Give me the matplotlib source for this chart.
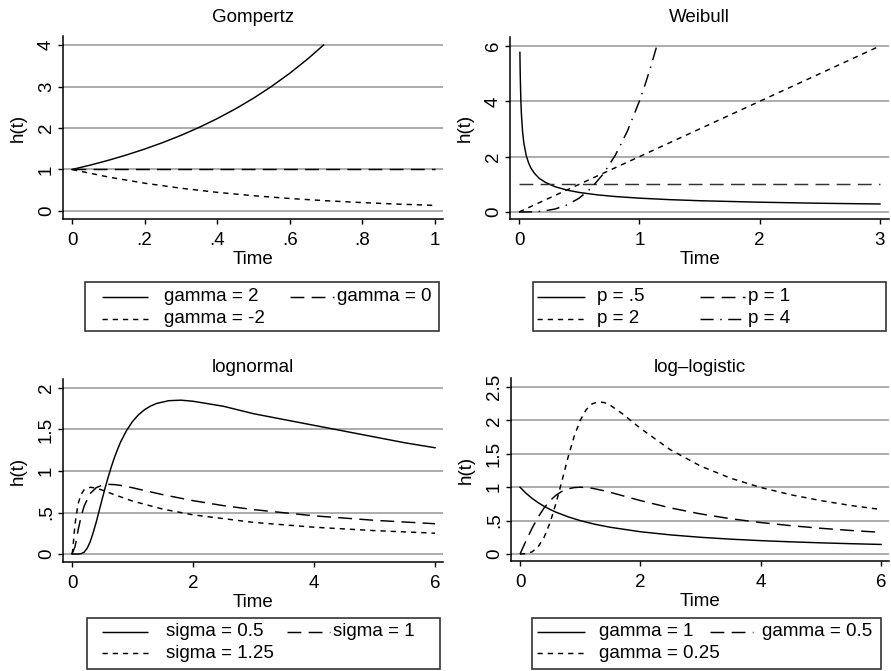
import matplotlib
matplotlib.use('Agg')
import matplotlib.pyplot as plt
from matplotlib.patches import Rectangle

plt.rcParams['font.family'] = ['Liberation Sans', 'DejaVu Sans']

# ---------------- data ----------------
# Gompertz
gomp_t_pos = [0, .05, .1, .15, .2, .25, .3, .35, .4, .45, .5, .55, .6, .65, .693]
gomp_h_pos = [1, 1.105, 1.221, 1.350, 1.492, 1.649, 1.822, 2.014, 2.226, 2.460, 2.718, 3.004, 3.320, 3.669, 4.0]
gomp_t_zero = [0, 1]
gomp_h_zero = [1, 1]
gomp_t_neg = [0, .1, .2, .3, .4, .5, .6, .7, .8, .9, 1.0]
gomp_h_neg = [1, .819, .670, .549, .449, .368, .301, .247, .202, .165, .135]
gomp_labels = ['gamma = 2', 'gamma = 0', 'gamma = -2']

# Weibull
weib_t_05 = [0.0075, 0.01, 0.015, 0.02, 0.03, 0.04, 0.06, 0.08, 0.1, 0.13, 0.17, 0.22, 0.3, 0.4, 0.5,
             0.65, 0.8, 1.0, 1.25, 1.5, 2.0, 2.5, 3.0]
weib_h_05 = [5.77, 5.0, 4.08, 3.54, 2.89, 2.5, 2.04, 1.77, 1.58, 1.39, 1.21, 1.07, 0.913, 0.79, 0.707,
             0.62, 0.559, 0.5, 0.447, 0.408, 0.354, 0.316, 0.289]
weib_t_1 = [0, 3]
weib_h_1 = [1, 1]
weib_t_2 = [0, 3]
weib_h_2 = [0, 6]
weib_t_4 = [0, 0.1, 0.2, 0.3, 0.4, 0.5, 0.6, 0.7, 0.8, 0.9, 1.0, 1.05, 1.1, 1.145]
weib_h_4 = [0, 0.004, 0.032, 0.108, 0.256, 0.5, 0.864, 1.372, 2.048, 2.916, 4.0, 4.63, 5.32, 6.0]
weib_labels = ['p = .5', 'p = 1', 'p = 2', 'p = 4']

# lognormal
logn_t_05 = [0, 0.1, 0.15, 0.2, 0.25, 0.3, 0.35, 0.4, 0.45, 0.5, 0.55, 0.6, 0.65, 0.7, 0.75, 0.8, 0.9,
             1.0, 1.1, 1.2, 1.3, 1.4, 1.6, 1.8, 2.0, 2.5, 3.0, 3.5, 4.0, 4.5, 5.0, 5.5, 6.0]
logn_h_05 = [0, 0.0, 0.004, 0.022, 0.069, 0.147, 0.257, 0.385, 0.524, 0.666, 0.804, 0.932, 1.051, 1.16,
             1.255, 1.344, 1.486, 1.596, 1.678, 1.739, 1.783, 1.814, 1.847, 1.853, 1.84, 1.78, 1.69,
             1.62, 1.55, 1.48, 1.41, 1.34, 1.28]
logn_t_1 = [0, 0.05, 0.1, 0.15, 0.2, 0.3, 0.4, 0.5, 0.6, 0.7, 0.8, 1.0, 1.5, 2.0, 2.5, 3.0, 4.0, 5.0, 6.0]
logn_h_1 = [0, 0.089, 0.286, 0.45, 0.577, 0.728, 0.799, 0.83, 0.839, 0.836, 0.827, 0.798, 0.715, 0.643,
            0.583, 0.535, 0.46, 0.406, 0.365]
logn_t_125 = [0, 0.01, 0.02, 0.05, 0.1, 0.15, 0.2, 0.3, 0.4, 0.5, 0.7, 1.0, 1.5, 2.0, 3.0, 4.0, 5.0, 6.0]
logn_h_125 = [0, 0.037, 0.119, 0.363, 0.606, 0.717, 0.774, 0.804, 0.794, 0.77, 0.715, 0.638, 0.541,
              0.472, 0.381, 0.323, 0.282, 0.251]
logn_labels = ['sigma = 0.5', 'sigma = 1', 'sigma = 1.25']

# log-logistic
llog_t_1 = [0, 0.1, 0.2, 0.3, 0.4, 0.5, 0.6, 0.8, 1.0, 1.25, 1.5, 2.0, 2.5, 3.0, 3.5, 4.0, 4.5, 5.0,
            5.5, 6.0]
llog_h_1 = [1, 0.909, 0.833, 0.769, 0.714, 0.667, 0.625, 0.556, 0.5, 0.444, 0.4, 0.333, 0.286, 0.25,
            0.222, 0.2, 0.182, 0.167, 0.154, 0.143]
llog_t_05 = [0, 0.1, 0.2, 0.3, 0.4, 0.5, 0.6, 0.7, 0.8, 0.9, 1.0, 1.2, 1.4, 1.6, 1.8, 2.0, 2.5, 3.0,
             3.5, 4.0, 4.5, 5.0, 5.5, 6.0]
llog_h_05 = [0, 0.198, 0.385, 0.55, 0.69, 0.8, 0.882, 0.94, 0.976, 0.994, 1.0, 0.984, 0.946, 0.899,
             0.849, 0.8, 0.69, 0.6, 0.528, 0.471, 0.424, 0.385, 0.352, 0.324]
llog_t_025 = [0, 0.1, 0.2, 0.3, 0.4, 0.5, 0.6, 0.7, 0.8, 0.9, 1.0, 1.1, 1.2, 1.3, 1.4, 1.5, 1.7, 2.0,
              2.5, 3.0, 3.5, 4.0, 4.5, 5.0, 5.5, 6.0]
llog_h_025 = [0, 0.004, 0.032, 0.107, 0.25, 0.471, 0.765, 1.106, 1.453, 1.761, 2.0, 2.161, 2.249, 2.279,
              2.267, 2.227, 2.101, 1.882, 1.56, 1.317, 1.135, 0.996, 0.887, 0.799, 0.726, 0.666]
llog_labels = ['gamma = 1', 'gamma = 0.5', 'gamma = 0.25']

# ---------------- styling ----------------
W, H = 891, 671
FS = 13.5
LW = 1.05
GRID = '#a6a6a6'
SOLID = '-'
LONG = (0, (9.5, 5.0))
SHORT = (0, (3.6, 3.4))
DDOT = (0, (9.0, 4.5, 1.0, 4.5))

fig = plt.figure(figsize=(W / 100, H / 100), dpi=100)


def px_axes(l, t, r, b, **kw):
    return fig.add_axes([l / W, 1 - b / H, (r - l) / W, (b - t) / H], **kw)


def style(ax, xticks, xlabels, yticks, ylabels, xlim, ylim):
    ax.set_xlim(*xlim)
    ax.set_ylim(*ylim)
    ax.set_xticks(xticks)
    ax.set_xticklabels(xlabels)
    ax.set_yticks(yticks)
    ax.set_yticklabels(ylabels, rotation=90, va='center')
    for s in ('top', 'right'):
        ax.spines[s].set_visible(False)
    for s in ('left', 'bottom'):
        ax.spines[s].set_linewidth(1.1)
    ax.tick_params(direction='out', length=3.8, width=1.0, labelsize=FS)
    ax.tick_params(axis='x', pad=5.5)
    ax.tick_params(axis='y', pad=2)
    ax.yaxis.grid(True, color=GRID, lw=1.3)
    ax.set_axisbelow(True)
    ax.set_xlabel('Time', fontsize=FS, labelpad=1.5)
    ax.set_ylabel('h(t)', fontsize=FS, labelpad=8)


def legend_box(l, t, r, b, entries, cols_x, rows_y):
    lax = px_axes(l, t, r, b)
    lax.set_xlim(l, r)
    lax.set_ylim(b, t)
    lax.set_axis_off()
    lax.add_patch(Rectangle((l, t), r - l, b - t, fill=False, ec='#333333', lw=1.2, clip_on=False))
    for i, (lab, ls) in enumerate(entries):
        row, col = divmod(i, 2)
        sx0, sx1, tx = cols_x[col]
        y = rows_y[row]
        lax.plot([sx0, sx1], [y, y], color='black', lw=LW, linestyle=ls, solid_capstyle='butt',
                 dash_capstyle='butt')
        lax.text(tx, y, lab, fontsize=FS, va='center', ha='left')


# ---- Gompertz ----
ax = px_axes(63, 36, 443, 219)
ax.plot(gomp_t_pos, gomp_h_pos, color='black', lw=LW, linestyle=SOLID)
ax.plot(gomp_t_zero, gomp_h_zero, color='black', lw=LW, linestyle=LONG)
ax.plot(gomp_t_neg, gomp_h_neg, color='black', lw=LW, linestyle=SHORT)
style(ax, [0, .2, .4, .6, .8, 1], ['0', '.2', '.4', '.6', '.8', '1'],
      [0, 1, 2, 3, 4], ['0', '1', '2', '3', '4'], (-0.0248, 1.022), (-0.193, 4.217))
fig.text(253 / W, 1 - 18 / H, 'Gompertz', fontsize=FS, ha='center', va='center')
legend_box(85, 282, 439, 331, list(zip(gomp_labels, [SOLID, LONG, SHORT])),
           [(102, 148, 164), (290, 334, 337)], [297, 319])

# ---- Weibull ----
ax = px_axes(510, 37, 889, 219)
ax.plot(weib_t_05, weib_h_05, color='black', lw=LW, linestyle=SOLID)
ax.plot(weib_t_1, weib_h_1, color='#333333', lw=LW, linestyle=LONG)
ax.plot(weib_t_2, weib_h_2, color='black', lw=LW, linestyle=SHORT)
ax.plot(weib_t_4, weib_h_4, color='black', lw=LW, linestyle=DDOT)
style(ax, [0, 1, 2, 3], ['0', '1', '2', '3'],
      [0, 2, 4, 6], ['0', '2', '4', '6'], (-0.0748, 3.075), (-0.253, 6.325))
fig.text(699 / W, 1 - 18 / H, 'Weibull', fontsize=FS, ha='center', va='center')
legend_box(533, 282, 886, 331, list(zip(weib_labels, [SOLID, LONG, SHORT, DDOT])),
           [(537, 585, 597), (700, 745, 748)], [297, 319])

# ---- lognormal ----
ax = px_axes(63, 379, 443, 562)
ax.plot(logn_t_05, logn_h_05, color='black', lw=LW, linestyle=SOLID)
ax.plot(logn_t_1, logn_h_1, color='black', lw=LW, linestyle=LONG)
ax.plot(logn_t_125, logn_h_125, color='black', lw=LW, linestyle=SHORT)
style(ax, [0, 2, 4, 6], ['0', '2', '4', '6'],
      [0, .5, 1, 1.5, 2], ['0', '.5', '1', '1.5', '2'], (-0.149, 6.132), (-0.096, 2.108))
fig.text(253 / W, 1 - 367 / H, 'lognormal', fontsize=FS, ha='center', va='center')
legend_box(87, 618, 440, 669, list(zip(logn_labels, [SOLID, LONG, SHORT])),
           [(102, 148, 166), (287, 330, 333)], [632, 653])

# ---- log-logistic ----
ax = px_axes(511, 378, 889, 561)
ax.plot(llog_t_1, llog_h_1, color='black', lw=LW, linestyle=SOLID)
ax.plot(llog_t_05, llog_h_05, color='black', lw=LW, linestyle=LONG)
ax.plot(llog_t_025, llog_h_025, color='black', lw=LW, linestyle=SHORT)
style(ax, [0, 2, 4, 6], ['0', '2', '4', '6'],
      [0, .5, 1, 1.5, 2, 2.5], ['0', '.5', '1', '1.5', '2', '2.5'], (-0.15, 6.133), (-0.105, 2.635))
fig.text(700 / W, 1 - 367 / H, 'log\u2013logistic', fontsize=FS, ha='center', va='center')
legend_box(532, 618, 881, 669, list(zip(llog_labels, [SOLID, LONG, SHORT])),
           [(537, 585, 599), (710, 753, 762)], [632, 653])

fig.savefig('out.png', dpi=100)
